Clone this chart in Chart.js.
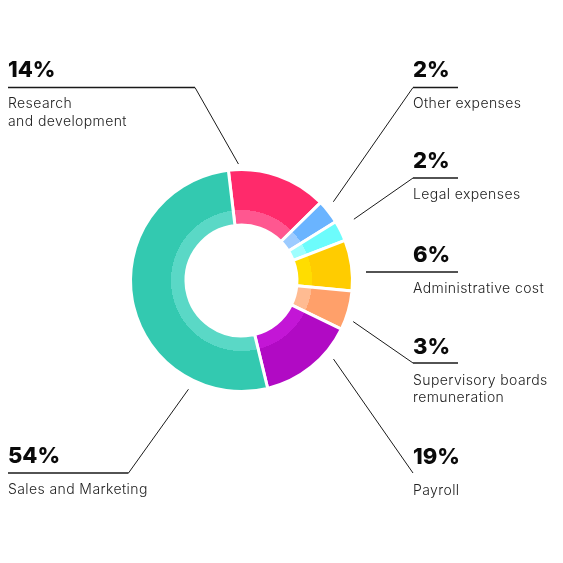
<!DOCTYPE html>
<html>
<head>
<meta charset="utf-8">
<script src="https://cdn.jsdelivr.net/npm/chart.js@4.4.1/dist/chart.umd.min.js"></script>
<style>
  html, body { margin: 0; padding: 0; background: #fff; }
  #wrap { width: 563px; height: 563px; position: relative; }
</style>
</head>
<body>
<div id="wrap"><canvas id="grafico"></canvas></div>
<script>
// categories in clockwise order, starting just left of 12 o'clock
const categories = [
  ["Research", "and development"],
  ["Other expenses"],
  ["Legal expenses"],
  ["Administrative cost"],
  ["Supervisory boards", "remuneration"],
  ["Payroll"],
  ["Sales and Marketing"]
];
// percentages as printed next to each slice
const percentLabels = ["14%", "2%", "2%", "6%", "3%", "19%", "54%"];
// slice sizes as drawn in the donut (share of the full circle, %)
const sliceShares = [14.5, 3.5, 3.0, 7.4, 5.7, 14.0, 51.9];

const outerColors = ["#ff2a6b", "#6ab4ff", "#6cfcfc", "#ffcc00", "#ffa06a", "#b10ac4", "#33c9b0"];
const innerColors = ["#ff5790", "#9ccbff", "#9efefe", "#ffdd00", "#ffbb92", "#c316d6", "#5ad8c6"];

// label placement: text column, baseline of the %, underline span, elbow, anchor on ring
const labelLayout = [
  { x: 8,   base: 77,    under: [8, 195],   elbow: [195, 87.5],  anchor: [-1.5, 116.5] },
  { x: 413, base: 77,    under: [413, 458], elbow: [413, 87.5],  anchor: [49.4, 121] },
  { x: 413, base: 167.5, under: [413, 458], elbow: [413, 178],   anchor: [61.4, 128] },
  { x: 413, base: 261.5, under: [366, 458], elbow: [366, 272],   anchor: null },
  { x: 413, base: 353.5, under: [413, 458], elbow: [413, 363],   anchor: [110.2, 119] },
  { x: 413, base: 463.5, under: null,       elbow: [413, 473],   anchor: [130.5, 121] },
  { x: 8,   base: 463,   under: [8, 128.5], elbow: [128.5, 473], anchor: [206, 121] }
];

const innerBandRadius = 70.5;

function sliceFill(context) {
  const i = context.dataIndex;
  const chart = context.chart;
  const area = chart.chartArea;
  const ctrl = chart.getDatasetMeta(0).controller;
  if (!area || !ctrl || !ctrl.outerRadius) return outerColors[i];
  const cx = (area.left + area.right) / 2;
  const cy = (area.top + area.bottom) / 2;
  const r0 = ctrl.innerRadius, r1 = ctrl.outerRadius;
  const t = Math.min(Math.max((innerBandRadius - r0) / (r1 - r0), 0), 1);
  const g = chart.ctx.createRadialGradient(cx, cy, r0, cx, cy, r1);
  g.addColorStop(0, innerColors[i]);
  g.addColorStop(t, innerColors[i]);
  g.addColorStop(Math.min(t + 0.001, 1), outerColors[i]);
  g.addColorStop(1, outerColors[i]);
  return g;
}

const calloutPlugin = {
  id: "callouts",
  afterDraw(chart) {
    const ctx = chart.ctx;
    const arc = chart.getDatasetMeta(0).data[0];
    if (!arc) return;
    const cx = arc.x, cy = arc.y;
    ctx.save();
    labelLayout.forEach((l, i) => {
      ctx.strokeStyle = "#1a1a1a";
      if (l.under) {
        ctx.lineWidth = 1.3;
        ctx.beginPath();
        ctx.moveTo(l.under[0], l.elbow[1]);
        ctx.lineTo(l.under[1], l.elbow[1]);
        ctx.stroke();
      }
      if (l.anchor) {
        const a = (l.anchor[0] - 90) * Math.PI / 180;
        ctx.lineWidth = 1;
        ctx.beginPath();
        ctx.moveTo(l.elbow[0], l.elbow[1]);
        ctx.lineTo(cx + Math.cos(a) * l.anchor[1], cy + Math.sin(a) * l.anchor[1]);
        ctx.stroke();
      }
      ctx.textAlign = "left";
      ctx.textBaseline = "alphabetic";
      ctx.fillStyle = "#0a0a0a";
      ctx.letterSpacing = "0px";
      ctx.font = "800 22px Inter";
      ctx.fillText(percentLabels[i], l.x, l.base);
      ctx.fillStyle = "#222";
      ctx.letterSpacing = "0.4px";
      ctx.font = "300 14px Inter";
      categories[i].forEach((line, k) => {
        ctx.fillText(line, l.x, l.base + 31 + k * 17.5);
      });
    });
    ctx.restore();
  }
};

new Chart(document.getElementById("grafico"), {
  type: "doughnut",
  data: {
    labels: categories.map(c => c.join(" ")),
    datasets: [{
      data: sliceShares,
      backgroundColor: sliceFill,
      borderColor: "#ffffff",
      borderWidth: 3
    }]
  },
  options: {
    responsive: true,
    maintainAspectRatio: false,
    animation: false,
    rotation: -6.8,
    cutout: "50%",
    layout: { padding: { left: 129, right: 209, top: 168, bottom: 170 } },
    plugins: {
      legend: { display: false },
      tooltip: { enabled: false }
    }
  },
  plugins: [calloutPlugin]
});
</script>
</body>
</html>
